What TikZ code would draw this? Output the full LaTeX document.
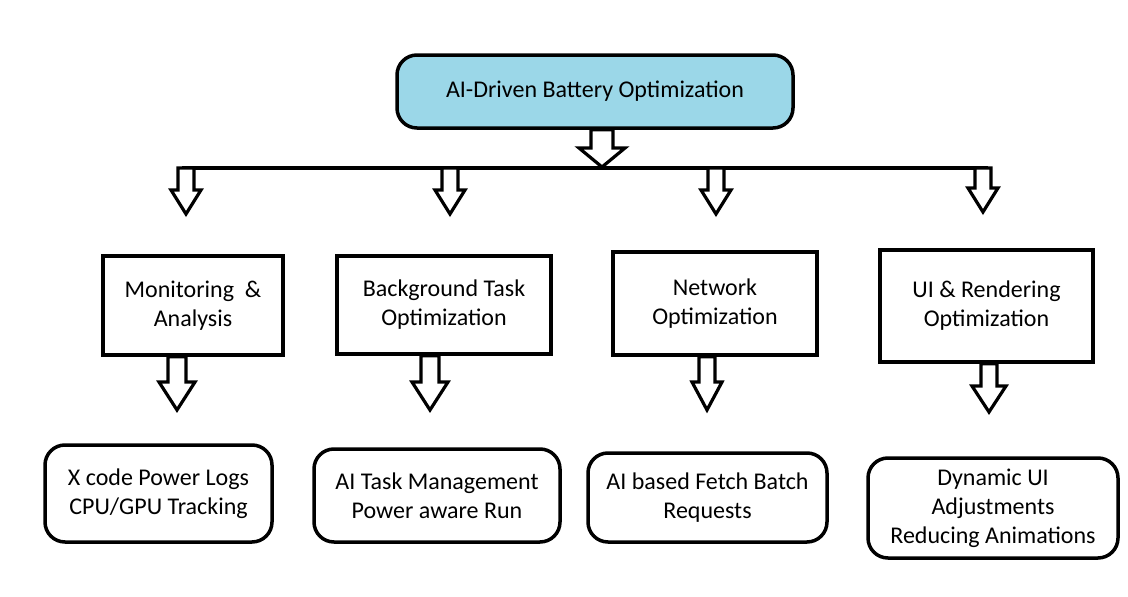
\documentclass[tikz,border=0pt]{standalone}
\usepackage{fontspec}
\setmainfont{Carlito}
\usepackage{tikz}
\usetikzlibrary{positioning}
\usetikzlibrary{calc}
\usepackage{xcolor}
\definecolor{headblue}{RGB}{155,215,232}

% hollow block arrow: start, tip, half shaft, half head, head length
\newcommand{\hollowarrow}[5]{%
  \draw[blockarrow] ([xshift=-#3]#1) -- ([xshift=-#3,yshift=#5]#2) -- ([xshift=-#4,yshift=#5]#2) -- (#2)
    -- ([xshift=#4,yshift=#5]#2) -- ([xshift=#3,yshift=#5]#2) -- ([xshift=#3]#1) -- cycle;}

\begin{document}
\begin{tikzpicture}[
  x=1pt, y=-1pt,
  font=\fontsize{24}{29}\selectfont,
  head/.style={draw, line width=3.5pt, fill=headblue, rounded corners=20pt, align=center, inner sep=0pt, minimum width=396pt, minimum height=73pt},
  stage/.style={draw, line width=3.5pt, align=center, inner sep=0pt},
  result/.style={draw, line width=3.5pt, rounded corners=20pt, align=center, inner sep=0pt},
  blockarrow/.style={draw, fill=white, line width=3.2pt, line join=miter},
  bus/.style={line width=4pt}
]
\path[fill=white, use as bounding box] (0,0) rectangle (1128,597);

% Top: goal
\node[head] (top) at (595,91.5) {AI-Driven Battery Optimization};

% Bus line and branch points
\coordinate (busL) at (182,168);
\coordinate (busR) at (988,168);
\draw[bus] (busL) -- (busR);

\coordinate (tip0) at (602,167);
\coordinate (a0) at (tip0 |- top.south);
\hollowarrow{a0}{tip0}{11pt}{23pt}{19pt}

% Second row: areas
\node[stage, minimum width=180pt, minimum height=99pt] (mon) at (193,305.5) {Monitoring\ \ \&\\Analysis};
\node[stage, minimum width=214pt, minimum height=98pt] (bg) at (444,305) {Background Task\\Optimization};
\node[stage, minimum width=204pt, minimum height=103pt] (net) at (715,303.5) {Network\\Optimization};
\node[stage, minimum width=213pt, minimum height=112pt] (ui) at (986.5,306) {UI \& Rendering\\Optimization};

% Branch arrows from the bus
\coordinate (tip1) at (186,214);
\coordinate (tip2) at (450,214);
\coordinate (tip3) at (716,214);
\coordinate (tip4) at (983,212);
\coordinate (b1) at (tip1 |- busL);
\coordinate (b2) at (tip2 |- busL);
\coordinate (b3) at (tip3 |- busL);
\coordinate (b4) at (tip4 |- busL);
\hollowarrow{b1}{tip1}{8pt}{15pt}{24pt}
\hollowarrow{b2}{tip2}{8pt}{15pt}{24pt}
\hollowarrow{b3}{tip3}{8pt}{15pt}{24pt}
\hollowarrow{b4}{tip4}{8pt}{15pt}{24pt}

% Bottom row: techniques
\node[result, minimum width=227pt, minimum height=97pt] (r1) at (158.5,493.5) {X code Power Logs\\CPU/GPU Tracking};
\node[result, minimum width=246pt, minimum height=93pt] (r2) at (437,495.5) {AI Task Management\\Power aware Run};
\node[result, minimum width=239pt, minimum height=89pt] (r3) at (707.5,497.5) {AI based Fetch Batch\\Requests};
\node[result, minimum width=250pt, minimum height=100pt] (r4) at (993,508) {Dynamic UI\\Adjustments\\Reducing Animations};

% Arrows from areas to techniques
\coordinate (tip5) at (177,410);
\coordinate (tip6) at (430,410);
\coordinate (tip7) at (707,410);
\coordinate (tip8) at (989,412);
\coordinate (c1) at (tip5 |- mon.south);
\coordinate (c2) at (tip6 |- bg.south);
\coordinate (c3) at (tip7 |- net.south);
\coordinate (c4) at (tip8 |- ui.south);
\hollowarrow{c1}{tip5}{9pt}{18pt}{28pt}
\hollowarrow{c2}{tip6}{9pt}{18pt}{28pt}
\hollowarrow{c3}{tip7}{8pt}{15pt}{28pt}
\hollowarrow{c4}{tip8}{8pt}{17pt}{26pt}

\end{tikzpicture}
\end{document}
